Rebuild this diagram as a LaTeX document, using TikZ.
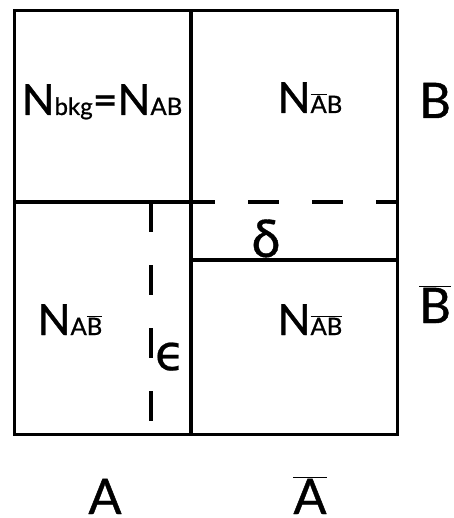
\documentclass[tikz,border=0pt]{standalone}
\usepackage{fontspec}
\setmainfont{Lato}[BoldFont={Lato}, BoldFeatures={FakeBold=0.8}]
\newfontfamily\djv{DejaVu Sans}[BoldFont={DejaVu Sans}, BoldFeatures={FakeBold=0.5}]
\newcommand\ovl[1]{\ensuremath{\overline{\mbox{#1}}}}
\newcommand\sbs[1]{{\fontsize{24}{24}\selectfont #1}}
\begin{document}
\begin{tikzpicture}[x=1pt,y=-1pt,
  frame/.style={line width=3pt},
  divider/.style={line width=4.5pt},
  dashdiv/.style={line width=4.5pt,dash pattern=on 31pt off 33pt},
  lbl/.style={anchor=base,inner sep=0pt,font=\fontsize{43}{43}\selectfont\bfseries},
  side/.style={anchor=base,inner sep=0pt,font=\fontsize{49}{49}\selectfont\bfseries}]
\useasboundingbox (0,0) rectangle (453,518);
\coordinate (tl) at (14,11);
\coordinate (br) at (397,434);
\coordinate (mt) at (191,11);
\coordinate (mb) at (191,434);
\coordinate (hl) at (14,202);
\coordinate (hm) at (191,202);
\coordinate (hr) at (397,202);
\coordinate (lm) at (191,260);
\coordinate (lr) at (397,260);
\coordinate (et) at (151,202);
\coordinate (eb) at (151,422);
\draw[frame] (tl) rectangle (br);
\draw[divider] (mt) -- (mb);
\draw[divider] (hl) -- (hm);
\draw[dashdiv,dash phase=7pt] (hm) -- (hr);
\draw[line width=4pt] (lm) -- (lr);
\draw[line width=4pt,dash pattern=on 30pt off 33pt] (et) -- (eb);
\node[lbl] (nbkg) at (102,115) {N\sbs{bkg}=N\sbs{AB}};
\node[lbl] (nab1) at (310,113) {N\sbs{\ovl{A}B}};
\node[lbl] (nab2) at (70,335) {N\sbs{A\ovl{B}}};
\node[lbl] (nab3) at (310,335) {N\sbs{\ovl{AB}}};
\node[side] (b1) at (435,118) {B};
\node[side] (b2) at (435,323) {\ovl{B}};
\node[side] (a1) at (105,514) {A};
\node[side] (a2) at (310,514) {\ovl{A}};
\node[side,font=\fontsize{52}{52}\selectfont\bfseries] (dl) at (266,257) {δ};
\node[side] (el) at (170,370) {\djv\bfseries ϵ};
\end{tikzpicture}
\end{document}
